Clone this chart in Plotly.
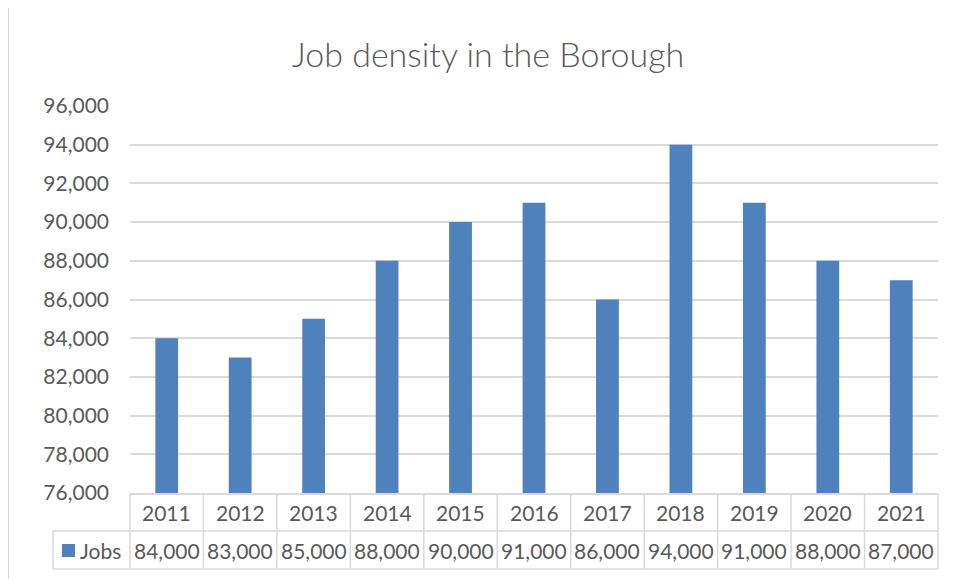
import plotly.graph_objects as go

# data
years = ["2011", "2012", "2013", "2014", "2015", "2016",
         "2017", "2018", "2019", "2020", "2021"]
jobs = [84000, 83000, 85000, 88000, 90000, 91000,
        86000, 94000, 91000, 88000, 87000]
series_name = "Jobs"

W, H = 957, 579
OFF = 8  # page body margin, the figure is drawn shifted by this
# plot area in reference pixels
PL, PR, PT, PB = 130, 938, 106, 493
plot_w = PR - PL
plot_h = PB - PT
L, T = PL - OFF, PT - OFF
R, B = W - L - plot_w, H - T - plot_h

GREY = "#D9D9D9"
TXT = "#595959"
BLUE = "#4F81BD"
FONT = "Lato, 'Open Sans', sans-serif"


# reference pixel -> paper helpers for the data table drawn under the axis
def px(p):
    return (p - PL) / plot_w


def py(p):
    return (PB - p) / plot_h


fig = go.Figure()
fig.add_trace(go.Bar(x=years, y=jobs, name=series_name,
                     marker=dict(color=BLUE, line=dict(width=0)),
                     showlegend=False))

row1_top, row2_top, row2_bot = PB, 531, 569
table_left = 53

shapes = []
line = dict(color=GREY, width=1.5)
# horizontal lines of the table
for yy in (row2_top, row2_bot):
    shapes.append(dict(type="line", xref="paper", yref="paper",
                       x0=px(table_left), x1=1, y0=py(yy), y1=py(yy), line=line))
shapes.append(dict(type="line", xref="paper", yref="paper",
                   x0=px(table_left), x1=px(table_left), y0=py(row2_top), y1=py(row2_bot), line=line))
# vertical cell borders at category boundaries
n = len(years)
for i in range(n + 1):
    xb = i / n
    shapes.append(dict(type="line", xref="paper", yref="paper",
                       x0=xb, x1=xb, y0=py(row1_top), y1=py(row2_bot), line=line))
# legend key in the table
shapes.append(dict(type="rect", xref="paper", yref="paper",
                   x0=px(62), x1=px(75), y0=py(557), y1=py(544),
                   fillcolor=BLUE, line=dict(width=0)))
# chart border
shapes.append(dict(type="rect", xref="paper", yref="paper",
                   x0=px(8), x1=px(W + 20), y0=py(H + 20), y1=py(6),
                   line=dict(color=GREY, width=2)))

cell_font = dict(family=FONT, size=21, color=TXT)
annotations = []
for i, (yr, v) in enumerate(zip(years, jobs)):
    annotations.append(dict(x=i, y=py((row1_top + row2_top) / 2), xref="x", yref="paper",
                            text=yr, showarrow=False, yanchor="middle", font=cell_font))
    annotations.append(dict(x=i, y=py((row2_top + row2_bot) / 2), xref="x", yref="paper",
                            text=f"{v:,}", showarrow=False, yanchor="middle", font=cell_font))
annotations.append(dict(x=px(78), y=py((row2_top + row2_bot) / 2), xref="paper", yref="paper",
                        text=series_name, showarrow=False, xanchor="left", yanchor="middle",
                        font=cell_font))

fig.update_layout(
    width=W, height=H,
    margin=dict(l=L, r=R, t=T, b=B),
    paper_bgcolor="white", plot_bgcolor="white",
    title=dict(text="Job density in the Borough", x=(488 - OFF) / W, xanchor="center",
               y=1 - (55 - OFF) / H, yanchor="middle",
               font=dict(family=FONT, size=34, color=TXT, weight=300)),
    bargap=0.69,
    xaxis=dict(type="category", showticklabels=False, showline=True, linecolor=GREY,
               linewidth=1.5, ticks="", showgrid=False, automargin=False),
    yaxis=dict(range=[76000, 96000], dtick=2000, tickformat=",",
               showgrid=True, gridcolor=GREY, gridwidth=1.5, zeroline=False,
               ticks="", ticklabelstandoff=20, automargin=False,
               tickfont=cell_font),
    shapes=shapes,
    annotations=annotations,
)

fig.write_html("out.html")
